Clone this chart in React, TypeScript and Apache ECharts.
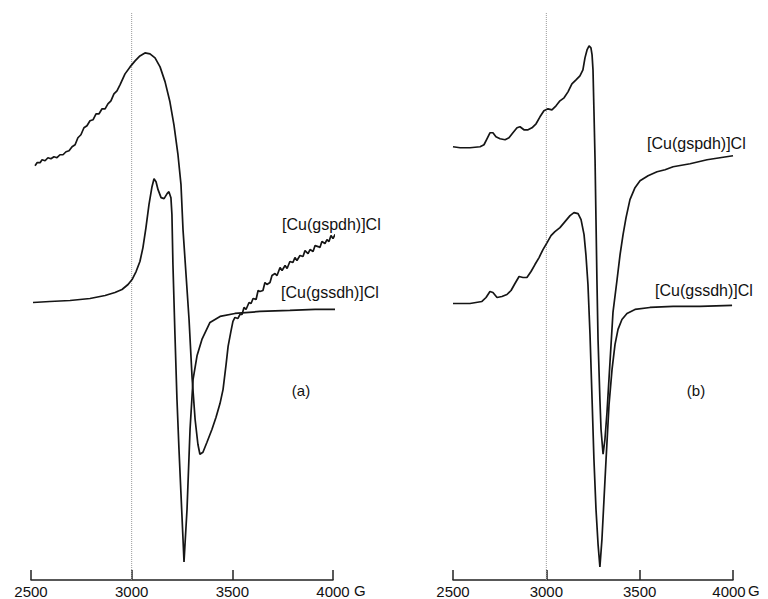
import React, { useEffect, useRef } from "react";
import * as echarts from "echarts";

// Magnetic field (G) and EPR signal (arbitrary units).
const ticksG = [2500, 3000, 3500, 4000];

// Panel (a)
const aGspdh: [number, number][] = [
  [2520, 41.5], [2530, 41.8], [2545, 41.8], [2555, 42.1], [2570, 42.0], [2584, 42.3],
  [2599, 42.2], [2614, 42.4], [2629, 42.3], [2644, 42.6], [2659, 42.6], [2674, 42.9],
  [2689, 43.0], [2704, 43.4], [2719, 43.6], [2733, 44.3], [2748, 44.6], [2763, 45.3],
  [2778, 45.5], [2793, 46.0], [2808, 46.1], [2823, 46.7], [2838, 46.7], [2853, 47.2],
  [2868, 47.2], [2882, 47.7], [2897, 48.0], [2912, 48.7], [2927, 49.0], [2942, 49.6],
  [2967, 50.7], [2992, 51.4], [3017, 52.0], [3041, 52.5], [3066, 52.8], [3091, 52.7],
  [3116, 52.3], [3141, 51.4], [3166, 49.9], [3190, 47.9], [3210, 45.6], [3230, 42.6],
  [3245, 39.6], [3255, 35.1], [3270, 30.6], [3285, 26.1], [3300, 20.3], [3315, 16.1],
  [3329, 13.6], [3339, 12.6], [3354, 12.8], [3374, 13.8], [3399, 15.1], [3419, 16.3],
  [3439, 17.7], [3454, 19.1], [3469, 21.6], [3479, 23.4], [3493, 24.9], [3503, 25.9],
  [3513, 26.3], [3528, 26.2], [3538, 26.6], [3548, 26.6], [3558, 27.3], [3568, 27.1],
  [3583, 27.8], [3593, 27.7], [3603, 28.2], [3618, 28.1], [3628, 29.0], [3637, 28.9],
  [3652, 29.0], [3662, 29.8], [3672, 29.6], [3687, 29.8], [3697, 30.5], [3712, 30.7],
  [3722, 30.5], [3737, 31.3], [3747, 31.0], [3762, 31.5], [3772, 31.2], [3786, 31.9],
  [3801, 31.8], [3811, 32.3], [3821, 32.0], [3836, 32.5], [3851, 32.4], [3861, 33.0],
  [3876, 32.7], [3886, 33.1], [3901, 32.9], [3911, 33.5], [3926, 33.4], [3935, 33.3],
  [3945, 33.9], [3960, 33.7], [3970, 34.1], [3980, 33.9], [3990, 34.5], [4000, 34.2],
  [4010, 34.6], [4020, 34.4],
];

const aGssdh: [number, number][] = [
  [2510, 27.8], [2594, 27.9], [2694, 28.0], [2793, 28.2], [2868, 28.5], [2917, 28.8],
  [2952, 29.1], [2982, 29.6], [3002, 30.1], [3022, 30.9], [3041, 31.9], [3056, 33.3],
  [3071, 35.3], [3086, 37.6], [3101, 39.4], [3111, 40.2], [3121, 39.9], [3131, 39.1],
  [3146, 38.3], [3161, 38.2], [3176, 38.7], [3185, 38.9], [3195, 38.3], [3200, 36.6],
  [3205, 31.6], [3215, 24.6], [3225, 18.1], [3235, 13.1], [3245, 8.6], [3255, 4.1],
  [3260, 1.8], [3265, 3.6], [3275, 7.1], [3290, 15.1], [3305, 20.1], [3325, 22.5],
  [3349, 24.1], [3389, 25.8], [3439, 26.4], [3513, 26.7], [3637, 26.9], [3786, 27.0],
  [3911, 27.1], [4010, 27.1],
];

// Panel (b)
const bGspdh: [number, number][] = [
  [2500, 43.4], [2538, 43.3], [2591, 43.3], [2645, 43.4], [2666, 43.6], [2682, 44.2],
  [2698, 44.8], [2714, 44.8], [2730, 44.4], [2752, 44.2], [2779, 44.1], [2800, 44.3],
  [2821, 44.8], [2843, 45.3], [2859, 45.4], [2880, 45.1], [2902, 45.1], [2923, 45.3],
  [2945, 45.7], [2966, 46.4], [2987, 47.0], [3009, 47.2], [3030, 47.1], [3052, 47.5],
  [3073, 48.0], [3095, 48.3], [3116, 48.9], [3137, 49.7], [3159, 50.1], [3180, 50.5],
  [3196, 51.1], [3207, 52.3], [3218, 53.1], [3229, 53.5], [3239, 53.3], [3245, 52.6],
  [3250, 51.1], [3255, 47.1], [3261, 42.1], [3266, 36.1], [3271, 30.1], [3277, 24.1],
  [3287, 18.1], [3293, 15.1], [3304, 12.6], [3314, 14.1], [3325, 16.8], [3341, 21.8],
  [3357, 26.8], [3379, 30.1], [3395, 32.6], [3411, 34.6], [3427, 36.3], [3448, 38.1],
  [3475, 39.3], [3502, 40.0], [3545, 40.5], [3593, 40.9], [3636, 41.1], [3679, 41.4],
  [3770, 41.7], [3861, 42.1], [3930, 42.3], [4000, 42.5],
];

const bGssdh: [number, number][] = [
  [2500, 27.7], [2591, 27.7], [2655, 27.9], [2677, 28.3], [2698, 28.9], [2714, 28.8],
  [2736, 28.3], [2762, 28.4], [2789, 28.6], [2811, 29.0], [2832, 29.7], [2854, 30.4],
  [2875, 30.3], [2896, 30.3], [2918, 30.9], [2939, 31.6], [2961, 32.3], [2982, 33.1],
  [3004, 33.8], [3025, 34.5], [3046, 34.9], [3073, 35.3], [3100, 35.9], [3127, 36.5],
  [3148, 36.8], [3170, 36.7], [3186, 36.1], [3202, 34.6], [3212, 32.6], [3223, 29.6],
  [3234, 24.6], [3245, 18.1], [3255, 12.1], [3266, 7.1], [3277, 3.6], [3287, 1.3],
  [3298, 4.1], [3309, 8.1], [3320, 12.1], [3336, 17.6], [3352, 21.1], [3368, 23.6],
  [3384, 25.1], [3405, 26.1], [3432, 26.7], [3475, 27.1], [3555, 27.3], [3679, 27.4],
  [3823, 27.4], [3995, 27.5],
];

const refField = 3000;
const refLine: [number, number][] = [[refField, 0], [refField, 56.8]];

const FONT = "'Liberation Sans', Arial, Helvetica, sans-serif";

export default function App() {
  const ref = useRef<HTMLDivElement>(null);
  useEffect(() => {
    if (!ref.current) return;
    const chart = echarts.init(ref.current, undefined, { renderer: "svg" });
    const xAxisBase = (gridIndex: number, shiftLast: boolean) => ({
      type: "value" as const,
      gridIndex,
      min: 2500,
      max: 4000,
      interval: 500,
      axisLine: { show: true, onZero: false, lineStyle: { color: "#222", width: 1.5 } },
      axisTick: { show: true, inside: true, length: 10, lineStyle: { color: "#222", width: 1.5 } },
      axisLabel: {
        color: "#111",
        fontSize: 15,
        fontFamily: FONT,
        margin: 4,
        customValues: ticksG,
        formatter: (v: number) =>
          shiftLast && v === 4000 ? `{r|${v}}` : String(v),
        rich: {
          r: { fontSize: 15, fontFamily: FONT, color: "#111", padding: [0, 8, 0, 0] },
        },
      },
      splitLine: { show: false },
    });
    const curve = (data: [number, number][], idx: number) => ({
      type: "line" as const,
      xAxisIndex: idx,
      yAxisIndex: idx,
      data,
      showSymbol: false,
      symbol: "none",
      clip: false,
      lineStyle: { color: "#151515", width: 1.7 },
    });
    const dotted = (idx: number) => ({
      type: "line" as const,
      xAxisIndex: idx,
      yAxisIndex: idx,
      data: refLine,
      showSymbol: false,
      symbol: "none",
      lineStyle: { color: "#9a9a9a", width: 1, type: "dotted" as const },
      z: 1,
    });
    const text = (x: number, y: number, t: string, size: number, align = "left") => ({
      type: "text" as const,
      x,
      y,
      style: {
        text: t,
        fill: "#111",
        font: `${size}px ${FONT}`,
        textAlign: align,
        textVerticalAlign: "middle",
      },
    });
    chart.setOption({
      animation: false,
      backgroundColor: "#fff",
      grid: [
        { left: 31, top: 0, width: 302, height: 581 },
        { left: 453, top: 0, width: 280, height: 581 },
      ],
      xAxis: [xAxisBase(0, false), xAxisBase(1, true)],
      yAxis: [
        { type: "value", gridIndex: 0, min: 0, max: 58.1, show: false },
        { type: "value", gridIndex: 1, min: 0, max: 58.1, show: false },
      ],
      series: [
        dotted(0),
        dotted(1),
        curve(aGspdh, 0),
        curve(aGssdh, 0),
        curve(bGspdh, 1),
        curve(bGssdh, 1),
      ],
      graphic: [
        text(282, 224, "[Cu(gspdh)]Cl", 16),
        text(281, 292, "[Cu(gssdh)]Cl", 16),
        text(301, 390, "(a)", 15, "center"),
        text(647, 143, "[Cu(gspdh)]Cl", 16),
        text(655, 290, "[Cu(gssdh)]Cl", 16),
        text(696, 390, "(b)", 15, "center"),
        text(354, 590, "G", 15),
        text(748, 590, "G", 15),
      ],
    });
    return () => chart.dispose();
  }, []);
  return (
    <div
      ref={ref}
      style={{ position: "absolute", left: 0, top: 0, width: 768, height: 599 }}
    />
  );
}
